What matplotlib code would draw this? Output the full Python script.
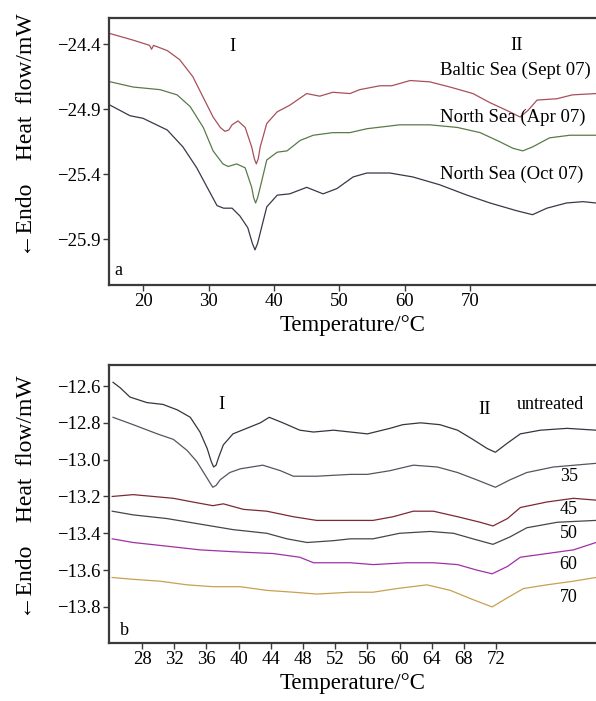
import matplotlib
matplotlib.use("Agg")
import matplotlib.pyplot as plt
import numpy as np

plt.rcParams['font.family'] = ['Liberation Serif', 'DejaVu Serif']
plt.rcParams['mathtext.fontset'] = 'stix'

# ---------------- Panel a data ----------------
baltic_T = [15, 18.5, 21, 21.3, 21.6, 23.7, 25.6, 27.6, 29.2, 30.7, 31.8, 32.5, 33.1, 33.6, 34.5, 35.6, 36.6,
            37.0, 37.3, 37.6, 37.9, 38.9, 40.5, 42.4, 45, 47, 49, 51.6, 53.1, 56.2, 58, 60.8, 63.8, 66.9,
            70.4, 73, 75.6, 77.6, 78.8, 80.2, 83.2, 85.6, 89.2]
baltic_v = [-24.32, -24.37, -24.41, -24.44, -24.41, -24.45, -24.52, -24.65, -24.81, -24.96, -25.04, -25.07,
            -25.06, -25.02, -24.99, -25.04, -25.19, -25.28, -25.32, -25.28, -25.19, -25.01, -24.92, -24.87,
            -24.78, -24.80, -24.77, -24.78, -24.75, -24.72, -24.72, -24.68, -24.69, -24.73, -24.78, -24.85,
            -24.91, -24.96, -24.91, -24.83, -24.82, -24.79, -24.78]

apr_T = [15, 18.5, 22.6, 25.2, 27.2, 29.2, 30.7, 32.2, 33, 34.3, 35.6, 36.6, 36.9, 37.2, 37.5, 37.9, 38.9,
         40.5, 42, 44, 46, 49, 51.6, 54.2, 59.2, 63.8, 68, 71.5, 74.5, 76.5, 78, 79.5, 82.1, 85.2, 89.2]
apr_v = [-24.69, -24.73, -24.75, -24.79, -24.88, -25.04, -25.22, -25.32, -25.34, -25.32, -25.35, -25.50,
         -25.58, -25.62, -25.58, -25.50, -25.29, -25.23, -25.22, -25.14, -25.10, -25.08, -25.08, -25.05,
         -25.02, -25.02, -25.04, -25.08, -25.15, -25.20, -25.22, -25.19, -25.12, -25.10, -25.10]

oct_T = [15, 18, 20, 23.7, 26.1, 28.2, 29.8, 31.3, 32.3, 33.6, 34.8, 36, 36.7, 37.1, 37.5, 37.9, 38.9,
         40.5, 42.4, 45, 47.5, 49.6, 52.1, 54.2, 57.7, 61.2, 65.3, 69.5, 73, 77.1, 79.5, 81.7, 84.7, 87.2,
         89.2]
oct_v = [-24.87, -24.95, -24.97, -25.06, -25.19, -25.35, -25.50, -25.64, -25.66, -25.66, -25.72, -25.81,
         -25.93, -25.98, -25.93, -25.85, -25.65, -25.56, -25.55, -25.50, -25.55, -25.51, -25.42, -25.39,
         -25.39, -25.42, -25.48, -25.56, -25.62, -25.68, -25.71, -25.66, -25.62, -25.61, -25.62]

a_xticks = [20, 30, 40, 50, 60, 70]
a_yticks = [-24.4, -24.9, -25.4, -25.9]
a_labels = ["Baltic Sea (Sept 07)", "North Sea (Apr 07)", "North Sea (Oct 07)"]

# ---------------- Panel b data ----------------
unt_T = [24.4, 25.3, 26.5, 28.6, 30.6, 32.4, 34, 35.2, 36.1, 36.6, 36.9, 37.2, 37.5, 38.1, 39.3, 41, 42.7,
         43.8, 45.5, 47.6, 49.3, 51.8, 53.9, 56, 58.8, 60.4, 62.6, 65, 67.2, 69.1, 70.9, 71.9, 73.4, 75,
         77.5, 80.8, 84.4]
unt_v = [-12.58, -12.61, -12.66, -12.69, -12.70, -12.73, -12.77, -12.85, -12.94, -13.01, -13.04, -13.03,
         -12.99, -12.92, -12.86, -12.83, -12.80, -12.77, -12.80, -12.84, -12.85, -12.84, -12.85, -12.86,
         -12.83, -12.81, -12.80, -12.81, -12.84, -12.89, -12.94, -12.96, -12.91, -12.86, -12.84, -12.83,
         -12.84]

t35_T = [24.4, 26.9, 29.9, 31.9, 33.6, 34.8, 35.8, 36.5, 36.8, 37.2, 37.7, 38.9, 40.2, 43, 45.2, 46.8,
         49.7, 53.9, 56, 58.8, 61.7, 64.7, 67.2, 69.6, 71.9, 73.7, 75.8, 79.1, 84.4]
t35_v = [-12.77, -12.81, -12.86, -12.89, -12.95, -13.01, -13.08, -13.13, -13.15, -13.14, -13.11, -13.07,
         -13.05, -13.03, -13.06, -13.09, -13.09, -13.08, -13.08, -13.06, -13.03, -13.04, -13.07, -13.11,
         -13.15, -13.11, -13.07, -13.04, -13.02]

t45_T = [24.3, 26.9, 29.4, 31.9, 34.3, 36.8, 38.1, 40.6, 43.5, 46.8, 49.7, 53.9, 56.7, 59.2, 61.7,
         64.2, 67.2, 70, 71.6, 73.4, 75, 78.3, 81.6, 84.4]
t45_v = [-13.20, -13.19, -13.20, -13.21, -13.23, -13.25, -13.24, -13.27, -13.28, -13.31, -13.33, -13.33,
         -13.33, -13.31, -13.28, -13.28, -13.31, -13.34, -13.36, -13.32, -13.26, -13.23, -13.21, -13.22]

t50_T = [24.3, 26.9, 31.1, 35.2, 39.3, 43.5, 46, 48.5, 51.8, 53.9, 56.7, 60, 63.8, 66.7, 69.1, 71.6,
         73.7, 75.8, 79.6, 84.4]
t50_v = [-13.28, -13.30, -13.32, -13.35, -13.38, -13.40, -13.43, -13.45, -13.44, -13.43, -13.43, -13.40,
         -13.39, -13.40, -13.43, -13.46, -13.42, -13.37, -13.34, -13.33]

t60_T = [24.3, 26.9, 31.1, 35.2, 39.3, 44.3, 47.6, 49.3, 51.8, 53.9, 56.7, 60.9, 64.2, 67.2, 69.6,
         71.5, 73.4, 75, 78.3, 81.6, 84.4]
t60_v = [-13.43, -13.45, -13.47, -13.49, -13.50, -13.51, -13.53, -13.56, -13.56, -13.56, -13.57, -13.56,
         -13.56, -13.57, -13.60, -13.62, -13.58, -13.53, -13.51, -13.49, -13.45]

t70_T = [24.3, 26.9, 30.2, 33.6, 36.8, 40.2, 43.5, 46.8, 49.7, 53.9, 56.7, 59.7, 63.4, 66.3, 69.1,
         71.5, 73.4, 75.4, 78.3, 81.6, 84.4]
t70_v = [-13.64, -13.65, -13.66, -13.68, -13.69, -13.69, -13.71, -13.72, -13.73, -13.72, -13.72, -13.70,
         -13.68, -13.71, -13.76, -13.80, -13.75, -13.70, -13.68, -13.66, -13.64]

b_xticks = [28, 32, 36, 40, 44, 48, 52, 56, 60, 64, 68, 72]
b_yticks = [-12.6, -12.8, -13.0, -13.2, -13.4, -13.6, -13.8]
b_labels = ["untreated", "35", "45", "50", "60", "70"]

# ---------------- Figure ----------------
fig = plt.figure(figsize=(5.96, 7.01), dpi=100)
axa = fig.add_axes([0.1829, 0.5934, 0.8171, 0.3809])
axb = fig.add_axes([0.1829, 0.0827, 0.8171, 0.3966])

def style(ax):
    for s in ['left', 'bottom', 'top']:
        ax.spines[s].set_linewidth(1.6)
        ax.spines[s].set_color('#3a3a3a')
    ax.spines['right'].set_visible(False)
    ax.tick_params(direction='out', length=4, width=1.0, color='#3a3a3a',
                   labelsize=13.5, pad=2, top=False, right=False)

c_red = '#a8505a'
c_green = '#5a7a4a'
c_dark = '#3a3848'

axa.plot(baltic_T, baltic_v, color=c_red, lw=0.9)
axa.plot(apr_T, apr_v, color=c_green, lw=0.9)
axa.plot(oct_T, oct_v, color=c_dark, lw=0.9)
axa.set_xlim(14.8, 89.2)
axa.set_ylim(-26.25, -24.2)
axa.set_xticks(a_xticks)
axa.set_yticks(a_yticks)
axa.set_yticklabels([f"\u2212{abs(v):.1f}" for v in a_yticks])
style(axa)
axa.set_xlabel("Temperature/\u00b0C", fontsize=16.5, labelpad=3)
axa.set_ylabel("\u2190Endo    Heat  flow/mW", fontsize=17)
axa.yaxis.set_label_coords(-0.148, 0.562)
axa.text(33.6, -24.42, "I", fontsize=13.5, ha='center', va='center')
axa.text(77.0, -24.41, "II", fontsize=13.5, ha='center', va='center')
for lab, yv in zip(a_labels, [-24.60, -24.96, -25.40]):
    axa.text(65.3, yv, lab, fontsize=13.5, ha='left', va='center')
axa.text(15.6, -26.14, "a", fontsize=13, ha='left', va='center')

axb.plot(unt_T, unt_v, color='#35353f', lw=0.9)
axb.plot(t35_T, t35_v, color='#55555f', lw=0.9)
axb.plot(t45_T, t45_v, color='#7a2a35', lw=0.9)
axb.plot(t50_T, t50_v, color='#45454d', lw=0.9)
axb.plot(t60_T, t60_v, color='#a030a8', lw=0.9)
axb.plot(t70_T, t70_v, color='#c8a050', lw=0.9)
axb.set_xlim(23.9, 84.4)
axb.set_ylim(-13.996, -12.486)
axb.set_xticks(b_xticks)
axb.set_yticks(b_yticks)
axb.set_yticklabels([f"\u2212{abs(v):.1f}" for v in b_yticks])
style(axb)
axb.set_xlabel("Temperature/\u00b0C", fontsize=16.5, labelpad=3)
axb.set_ylabel("\u2190Endo    Heat  flow/mW", fontsize=17)
axb.yaxis.set_label_coords(-0.148, 0.525)
axb.text(37.9, -12.70, "I", fontsize=13.5, ha='center', va='center')
axb.text(70.5, -12.73, "II", fontsize=13.5, ha='center', va='center')
for lab, yv in zip(b_labels, [-12.70, -13.09, -13.27, -13.40, -13.57, -13.75]):
    if lab == "untreated":
        axb.text(78.7, yv, lab, fontsize=13, ha='center', va='center')
    else:
        axb.text(81.0, yv, lab, fontsize=13, ha='center', va='center')
axb.text(25.2, -13.93, "b", fontsize=13, ha='left', va='center')

fig.savefig("out.png", dpi=100)
